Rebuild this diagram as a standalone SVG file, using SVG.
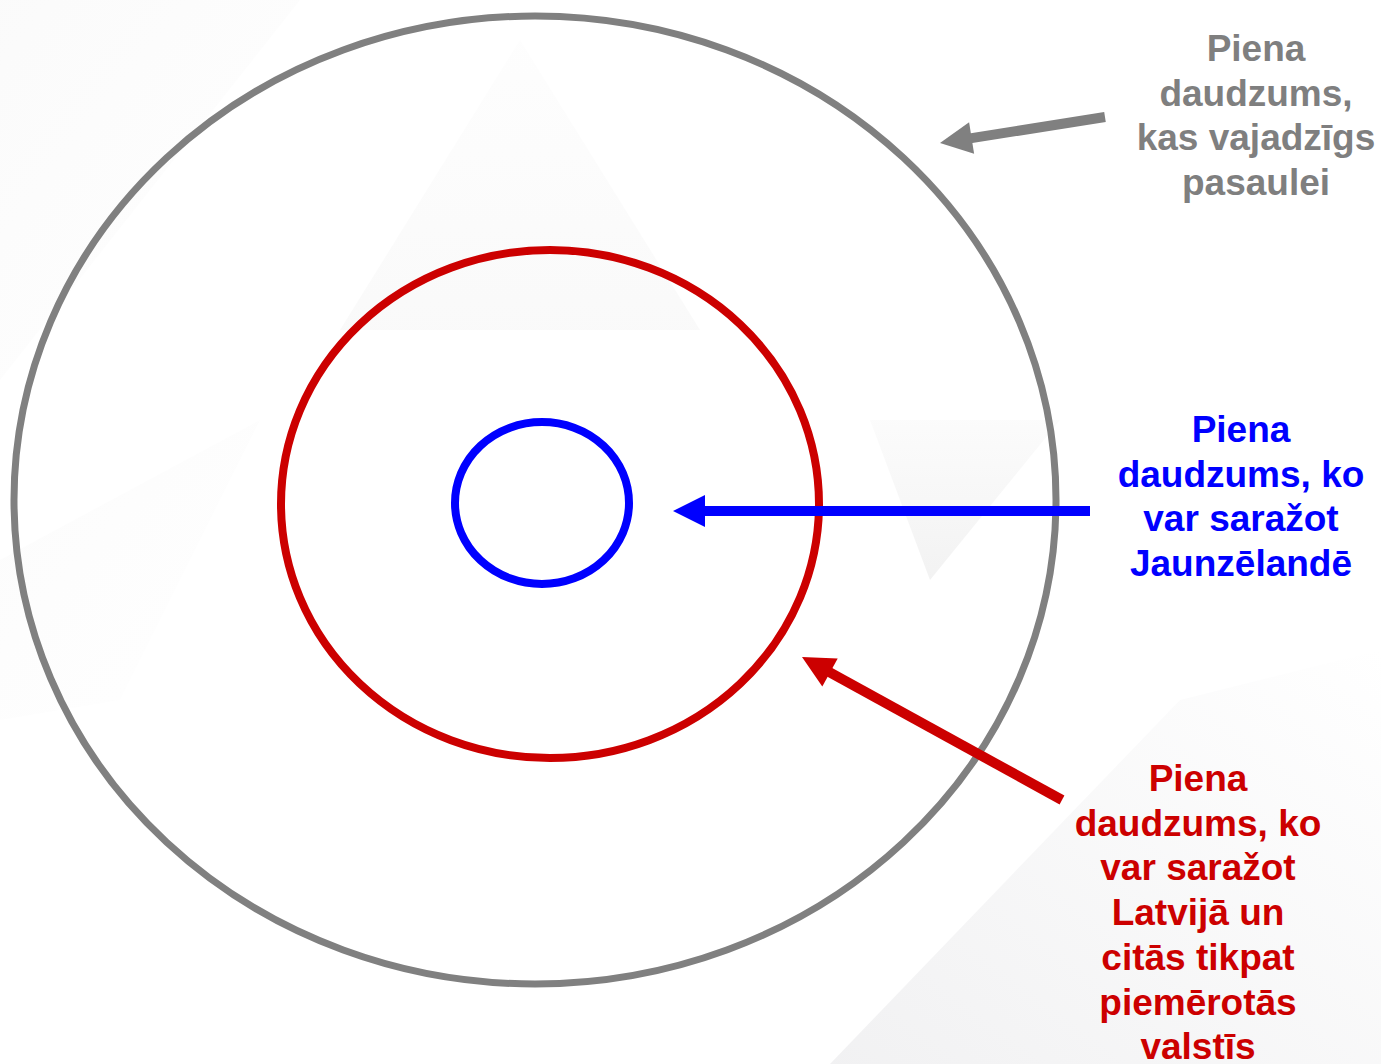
<svg xmlns="http://www.w3.org/2000/svg" width="1381" height="1064" viewBox="0 0 1381 1064">
<defs>
<style>
.lbl{font-family:"Liberation Sans",Arial,sans-serif;font-weight:bold;font-size:37px;text-anchor:middle}
.ring{fill:none}
.shaft{stroke-width:10;stroke-linecap:butt}
</style>
<linearGradient id="g1" x1="0" y1="0" x2="1" y2="1">
<stop offset="0" stop-color="#f4f4f4"/><stop offset="1" stop-color="#ffffff"/>
</linearGradient>
<linearGradient id="g2" x1="0" y1="0" x2="0" y2="1">
<stop offset="0" stop-color="#fafafa"/><stop offset="1" stop-color="#ededed"/>
</linearGradient>
<linearGradient id="g3" x1="0" y1="1" x2="1" y2="0">
<stop offset="0" stop-color="#e8e8ea"/><stop offset="1" stop-color="#ffffff"/>
</linearGradient>
</defs>
<rect width="1381" height="1064" fill="#ffffff"/>
<g id="background">
<polygon points="0,0 300,0 0,380" fill="url(#g1)" opacity="0.4"/>
<polygon points="520,40 700,330 340,330" fill="url(#g2)" opacity="0.3"/>
<polygon points="870,420 1060,420 930,580" fill="url(#g2)" opacity="0.7"/>
<polygon points="1381,650 1381,1064 830,1064 1180,700" fill="url(#g3)" opacity="0.6"/>
<polygon points="0,560 260,420 120,700 0,720" fill="url(#g1)" opacity="0.3"/>
</g>
<g id="world">
<ellipse class="ring" cx="535" cy="500" rx="521" ry="484" stroke="#808080" stroke-width="7"/>
</g>
<g id="latvia">
<ellipse class="ring" cx="550" cy="504" rx="269" ry="254" stroke="#cc0000" stroke-width="8"/>
</g>
<g id="nz">
<ellipse class="ring" cx="542" cy="503" rx="87" ry="81" stroke="#0000ff" stroke-width="8"/>
</g>
<g id="connectors">
<g id="arrow-world">
<line class="shaft" x1="1105" y1="117" x2="970" y2="138.4" stroke="#808080"/>
<polygon points="940,143 974.1,153.8 969.1,122.2" fill="#808080"/>
</g>
<g id="arrow-nz">
<line class="shaft" x1="1090" y1="511" x2="703" y2="511" stroke="#0000ff"/>
<polygon points="673,511 705,495 705,527" fill="#0000ff"/>
</g>
<g id="arrow-latvia">
<line class="shaft" x1="1062" y1="800" x2="828" y2="671.4" stroke="#cc0000"/>
<polygon points="802,657 837.7,658.4 822.3,686.4" fill="#cc0000"/>
</g>
</g>
<g id="label-world" class="lbl" fill="#7f7f7f">
<text x="1256" y="61">Piena</text>
<text x="1256" y="106">daudzums,</text>
<text x="1256" y="150">kas vajadzīgs</text>
<text x="1256" y="195">pasaulei</text>
</g>
<g id="label-nz" class="lbl" fill="#0000ff">
<text x="1241" y="442">Piena</text>
<text x="1241" y="487">daudzums, ko</text>
<text x="1241" y="531">var saražot</text>
<text x="1241" y="576">Jaunzēlandē</text>
</g>
<g id="label-latvia" class="lbl" fill="#cc0000">
<text x="1198" y="791">Piena</text>
<text x="1198" y="836">daudzums, ko</text>
<text x="1198" y="880">var saražot</text>
<text x="1198" y="925">Latvijā un</text>
<text x="1198" y="970">citās tikpat</text>
<text x="1198" y="1015">piemērotās</text>
<text x="1198" y="1059">valstīs</text>
</g>
</svg>
